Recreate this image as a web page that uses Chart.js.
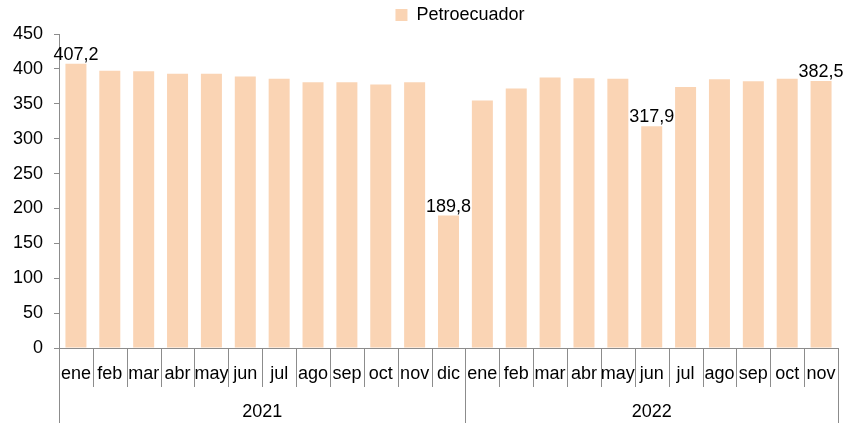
<!DOCTYPE html>
<html>
<head>
<meta charset="utf-8">
<script src="https://cdn.jsdelivr.net/npm/chart.js@4.4.1/dist/chart.umd.min.js"></script>
<style>
  html, body { margin: 0; padding: 0; background: #fff; }
  #wrap { width: 852px; height: 423px; }
</style>
</head>
<body>
<div id="wrap"><canvas id="barChart"></canvas></div>
<script>
const months = ["ene", "feb", "mar", "abr", "may", "jun", "jul", "ago", "sep", "oct", "nov", "dic",
                "ene", "feb", "mar", "abr", "may", "jun", "jul", "ago", "sep", "oct", "nov"];
const years = ["2021", "2022"];
const yearSizes = [12, 11];
const petroecuador = [407.2, 397.5, 396.7, 393, 393, 389, 386, 381, 381, 377.5, 381, 189.8,
                      354.7, 372, 387.5, 386.5, 386, 317.9, 374, 385, 382.2, 386, 382.5];
const labelled = [0, 11, 17, 22];
const yTicks = [0, 50, 100, 150, 200, 250, 300, 350, 400, 450];

const FONT = "'Liberation Sans', Arial, sans-serif";
const AXIS = "#8c8c8c";

// year row + category separators under the x axis
const groupAxis = {
  id: "groupAxis",
  afterLayout(chart) {
    // legend sits a little right of centre in the original
    chart.legend.left += 41;
    chart.legend.right += 41;
  },
  afterDraw(chart) {
    const ctx = chart.ctx;
    const xs = chart.scales.x;
    const bottom = chart.chartArea.bottom;
    const step = (xs.right - xs.left) / months.length;
    const bounds = [0];
    yearSizes.forEach(n => bounds.push(bounds[bounds.length - 1] + n));
    ctx.save();
    ctx.strokeStyle = AXIS;
    ctx.lineWidth = 1;
    for (let i = 0; i <= months.length; i++) {
      const x = Math.round(xs.left + i * step) + 0.5;
      const end = bounds.includes(i) ? chart.height : bottom + 39;
      ctx.beginPath();
      ctx.moveTo(x, bottom);
      ctx.lineTo(x, end);
      ctx.stroke();
    }
    ctx.fillStyle = "#000";
    ctx.font = "18px " + FONT;
    ctx.textAlign = "center";
    ctx.textBaseline = "middle";
    years.forEach((y, k) => {
      const x = xs.left + (bounds[k] + bounds[k + 1]) / 2 * step;
      ctx.fillText(y, x, bottom + 64);
    });
    ctx.restore();
  }
};

// value labels for the highlighted months
const valueLabels = {
  id: "valueLabels",
  afterDatasetsDraw(chart) {
    const ctx = chart.ctx;
    const meta = chart.getDatasetMeta(0);
    ctx.save();
    ctx.fillStyle = "#000";
    ctx.font = "18px " + FONT;
    ctx.textAlign = "center";
    ctx.textBaseline = "bottom";
    labelled.forEach(i => {
      const bar = meta.data[i];
      ctx.fillText(petroecuador[i].toFixed(1).replace(".", ","), bar.x, bar.y);
    });
    ctx.restore();
  }
};

new Chart(document.getElementById("barChart"), {
  type: "bar",
  data: {
    labels: months,
    datasets: [{
      label: "Petroecuador",
      data: petroecuador,
      backgroundColor: "#fad4b4",
      barPercentage: 0.62,
      categoryPercentage: 1
    }]
  },
  options: {
    responsive: true,
    maintainAspectRatio: false,
    animation: false,
    layout: { padding: { top: 0, right: 14, left: 0, bottom: 0 } },
    plugins: {
      legend: {
        position: "top",
        labels: {
          font: { family: FONT, size: 18 },
          color: "#000",
          boxWidth: 12,
          boxHeight: 12,
          padding: 6
        }
      },
      tooltip: { enabled: false }
    },
    scales: {
      x: {
        afterFit(scale) { scale.height = 75; },
        grid: { display: false, drawTicks: false },
        border: { display: true, color: AXIS },
        ticks: {
          font: { family: FONT, size: 18 },
          color: "#000",
          padding: 15,
          maxRotation: 0,
          autoSkip: false
        }
      },
      y: {
        min: 0,
        max: 450,
        afterFit(scale) { scale.width = 59; },
        afterBuildTicks(scale) { scale.ticks = yTicks.map(v => ({ value: v })); },
        grid: { drawOnChartArea: false, tickLength: 5, color: AXIS },
        border: { display: true, color: AXIS },
        ticks: {
          font: { family: FONT, size: 18 },
          color: "#000",
          padding: 11
        }
      }
    }
  },
  plugins: [groupAxis, valueLabels]
});
</script>
</body>
</html>
